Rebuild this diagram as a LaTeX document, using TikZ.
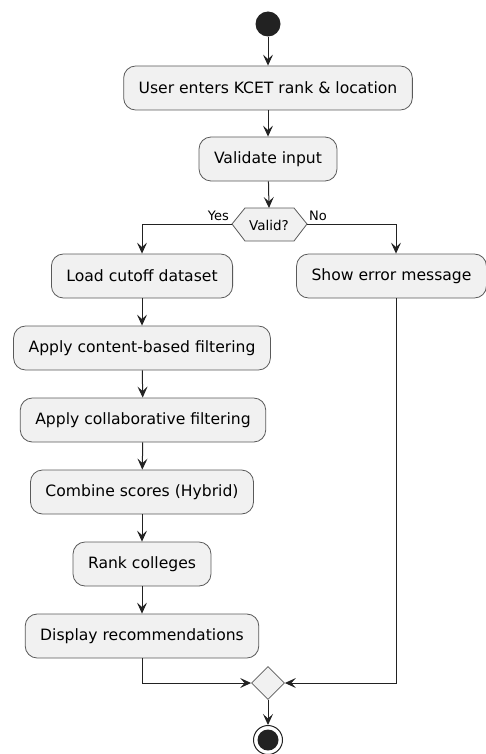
\documentclass[tikz,border=0pt]{standalone}
\usepackage{fontspec}
\setmainfont{DejaVu Sans}
\usetikzlibrary{arrows.meta,shapes.geometric}
\definecolor{boxfill}{HTML}{F1F1F1}
\definecolor{boxline}{HTML}{5A5A5A}
\definecolor{dark}{HTML}{222222}
\begin{document}
\begin{tikzpicture}[x=1pt,y=-1pt,
  act/.style={draw=boxline,fill=boxfill,line width=0.8pt,rounded corners=12pt,minimum height=44pt,inner xsep=15pt,font=\fontsize{15.6}{18}\selectfont},
  flow/.style={draw=dark,line width=1pt,-{Stealth[length=11pt,width=10pt,inset=4.5pt]}},
  lbl/.style={font=\fontsize{13}{15}\selectfont,inner sep=1pt}]
\useasboundingbox (0,0) rectangle (486,754);
% start
\node[circle,fill=dark,minimum size=25pt,inner sep=0pt] (start) at (268,24) {};
\node[act] (a1) at (268,88) {User enters KCET rank \& location};
\node[act] (a2) at (268,159) {Validate input};
% decision
\coordinate (vL) at (232,224);
\coordinate (vR) at (307,224);
\coordinate (vT) at (269,208);
\draw[draw=boxline,fill=boxfill,line width=0.8pt] (vL) -- (245,208) -- (294,208) -- (vR) -- (294,241) -- (245,241) -- cycle;
\node[font=\fontsize{13.5}{16}\selectfont,inner sep=0pt] (valid) at (269,225) {Valid?};
\node[lbl,anchor=south east] at (230,222) {Yes};
\node[lbl,anchor=south west] at (308,222) {No};
% left branch
\node[act] (b1) at (142,276) {Load cutoff dataset};
\node[act] (b2) at (142,348) {Apply content-based filtering};
\node[act] (b3) at (143,420) {Apply collaborative filtering};
\node[act] (b4) at (142,492) {Combine scores (Hybrid)};
\node[act] (b5) at (142,564) {Rank colleges};
\node[act] (b6) at (142,636) {Display recommendations};
% right branch
\node[act] (c1) at (391.5,276) {Show error message};
% merge
\node[draw=boxline,fill=boxfill,line width=0.8pt,diamond,minimum size=33pt,inner sep=0pt] (m) at (268,683) {};
% end
\node[circle,draw=dark,line width=1pt,minimum size=29pt,inner sep=0pt,fill=white] (end) at (268,740) {};
\node[circle,fill=dark,minimum size=21pt,inner sep=0pt] (endin) at (268,740) {};
% connectors
\draw[flow] (start) -- (a1);
\draw[flow] (a1) -- (a2);
\draw[flow] (a2) -- (vT);
\draw[flow] (vL) -| (b1);
\draw[flow] (vR) -| ([xshift=4.5pt]c1.north);
\draw[flow] (b1) -- (b2);
\draw[flow] (b2) -- (b3);
\draw[flow] (b3) -- (b4);
\draw[flow] (b4) -- (b5);
\draw[flow] (b5) -- (b6);
\draw[flow] (b6.south) |- (m.west);
\draw[flow] ([xshift=4.5pt]c1.south) |- (m.east);
\draw[flow] (m) -- (end);
\end{tikzpicture}
\end{document}
